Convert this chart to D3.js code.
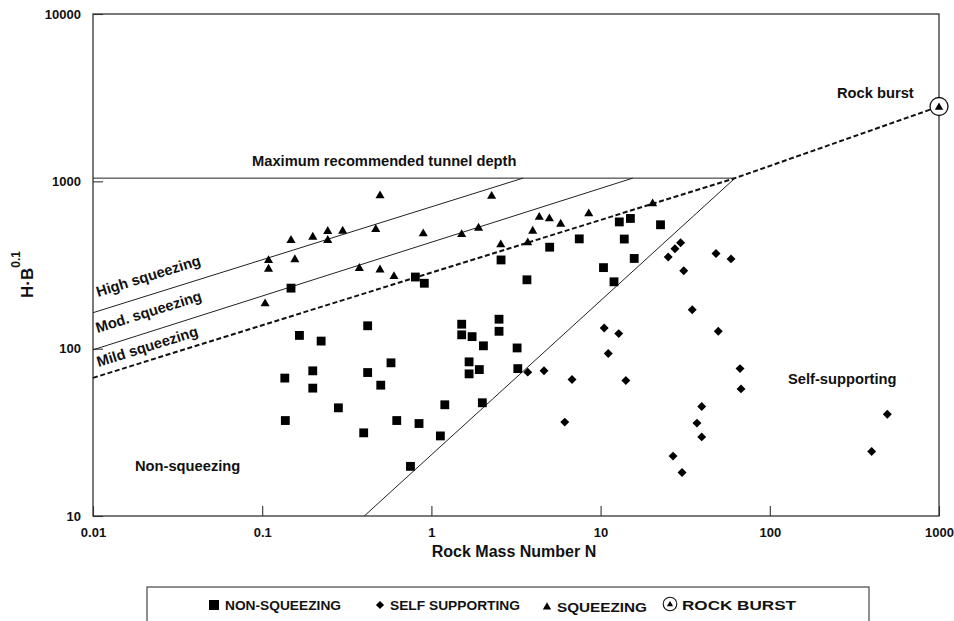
<!DOCTYPE html>
<html>
<head>
<meta charset="utf-8">
<script src="https://cdn.jsdelivr.net/npm/d3@7"></script>
<style>
  html, body { margin: 0; padding: 0; background: #fff; }
  svg { display: block; font-family: Arial, "Liberation Sans", sans-serif; }
</style>
</head>
<body>
<svg id="chart" width="954" height="621"></svg>
<script>
// ---------------- data ----------------
const xTickValues = [0.01, 0.1, 1, 10, 100, 1000];
const xTickLabels = ["0.01", "0.1", "1", "10", "100", "1000"];
const yTickValues = [10, 100, 1000, 10000];
const yTickLabels = ["10", "100", "1000", "10000"];

// Squeezing cases (triangles): Rock Mass Number N, H·B^0.1
const squeezingN = [0.497, 0.148, 0.199, 0.244, 0.244, 0.299, 0.469, 0.895, 0.109, 0.109, 0.156, 0.375, 0.497, 0.601, 0.104,
                    2.27, 1.51, 1.90, 4.34, 4.98, 5.81, 3.97, 2.57, 3.71, 8.51, 20.3];
const squeezingH = [826, 447, 468, 506, 447, 508, 520, 490, 339, 301, 343, 304, 298, 272, 187,
                    821, 485, 529, 615, 602, 559, 508, 421, 433, 645, 740];

// Non-squeezing cases (squares)
const nonSqueezingN = [0.148, 0.804, 0.908, 0.420, 2.58, 3.67, 5.00, 7.48, 12.9, 15.0, 13.8, 15.8, 10.4, 12.0, 22.6,
                       1.51, 2.51, 1.51, 1.74, 2.51, 2.03, 3.21, 1.67, 1.92, 1.67, 3.24, 1.20, 2.00, 1.13,
                       0.166, 0.223, 0.577, 0.199, 0.136, 0.420, 0.199, 0.502, 0.282, 0.137, 0.624, 0.845, 0.398, 0.752];
const nonSqueezingH = [230, 268, 246, 137, 339, 258, 404, 453, 572, 600, 452, 346, 305, 251, 550,
                       140, 150, 121, 118, 127, 104, 101, 83.4, 75.0, 70.7, 76.0, 46.2, 47.5, 30.1,
                       120, 111, 82.3, 73.7, 66.7, 72.0, 58.1, 60.5, 44.3, 37.2, 37.2, 35.7, 31.4, 19.8];

// Self-supporting cases (diamonds)
const selfSupportN = [3.71, 4.63, 6.78, 6.14, 10.5, 12.8, 11.1, 14.1, 29.7, 27.5, 25.1, 48.1, 59.0, 31.0, 34.8,
                      49.6, 66.7, 67.6, 39.6, 37.1, 39.6, 26.8, 30.3, 495, 400];
const selfSupportH = [72.4, 73.7, 65.4, 36.4, 133, 123, 93.5, 64.5, 430, 395, 353, 370, 344, 292, 171,
                      127, 76.0, 57.5, 45.1, 35.9, 29.7, 22.8, 18.2, 40.6, 24.3];

// Rock burst case
const rockBurstN = [1000];
const rockBurstH = [2800];

// Boundary lines (N, H·B^0.1)
const maxDepthLine = [[0.01, 1045], [62.3, 1045]];
const highSqueezingLine = [[0.01, 164], [3.48, 1045]];
const modSqueezingLine = [[0.01, 98.4], [15.5, 1045]];
const mildSqueezingLine = [[0.01, 66.9], [62.3, 1045], [1000, 2800]];
const selfSupportLine = [[0.401, 10], [62.3, 1045]];

const legendLabels = ["NON-SQUEEZING", "SELF SUPPORTING", "SQUEEZING", "ROCK BURST"];

// ---------------- drawing ----------------
(function draw() {
const svg = d3.select("#chart");
const pL = 93, pR = 939, pT = 14, pB = 516;
const ink = "#111";

const x = d3.scaleLog().domain([0.01, 1000]).range([pL, pR]);
const y = d3.scaleLog().domain([10, 10000]).range([pB, pT]);

svg.append("rect").attr("width", 954).attr("height", 621).attr("fill", "#fff");

// axes
const xAxis = svg.append("g")
  .attr("transform", `translate(0,${pB})`)
  .call(d3.axisBottom(x).tickValues(xTickValues)
        .tickFormat((d, i) => xTickLabels[i])
        .tickSizeInner(-10).tickSizeOuter(0).tickPadding(12));
const yAxis = svg.append("g")
  .attr("transform", `translate(${pL},0)`)
  .call(d3.axisLeft(y).tickValues(yTickValues)
        .tickFormat((d, i) => yTickLabels[i])
        .tickSizeInner(-10).tickSizeOuter(0).tickPadding(12));
[xAxis, yAxis].forEach(g => {
  g.select(".domain").remove();
  g.selectAll(".tick line").attr("stroke", "#333").attr("stroke-width", 1.1);
  g.selectAll(".tick text").attr("font-size", 13).attr("font-weight", "bold")
    .attr("fill", ink).attr("font-family", "Arial, 'Liberation Sans', sans-serif");
});

// plot border
svg.append("rect")
  .attr("x", pL).attr("y", pT)
  .attr("width", pR - pL).attr("height", pB - pT)
  .attr("fill", "none").attr("stroke", "#333").attr("stroke-width", 1.3);

// boundary lines
const line = d3.line().x(d => x(d[0])).y(d => y(d[1]));
const solidLines = [maxDepthLine, highSqueezingLine, modSqueezingLine, selfSupportLine];
svg.append("g").selectAll("path").data(solidLines).join("path")
  .attr("d", line).attr("fill", "none").attr("stroke", "#222").attr("stroke-width", 1);
svg.append("path").datum(mildSqueezingLine)
  .attr("d", line).attr("fill", "none").attr("stroke", "#111")
  .attr("stroke-width", 2).attr("stroke-dasharray", "5,2.6");

// markers
const sq = d3.symbol().type(d3.symbolSquare).size(78)();
const dia = d3.symbol().type(d3.symbolSquare).size(40)();
const tri = d3.symbol().type(d3.symbolTriangle).size(36)();

svg.append("g").selectAll("path")
  .data(d3.range(nonSqueezingN.length)).join("path")
  .attr("d", sq).attr("fill", "#000")
  .attr("transform", i => `translate(${x(nonSqueezingN[i])},${y(nonSqueezingH[i])})`);
svg.append("g").selectAll("path")
  .data(d3.range(selfSupportN.length)).join("path")
  .attr("d", dia).attr("fill", "#000")
  .attr("transform", i => `translate(${x(selfSupportN[i])},${y(selfSupportH[i])}) rotate(45)`);
svg.append("g").selectAll("path")
  .data(d3.range(squeezingN.length)).join("path")
  .attr("d", tri).attr("fill", "#000")
  .attr("transform", i => `translate(${x(squeezingN[i])},${y(squeezingH[i]) + 0.5})`);
const rb = svg.append("g").selectAll("g")
  .data(d3.range(rockBurstN.length)).join("g")
  .attr("transform", i => `translate(${x(rockBurstN[i])},${y(rockBurstH[i])})`);
rb.append("circle").attr("r", 9).attr("fill", "#fff").attr("stroke", "#111").attr("stroke-width", 1.3);
rb.append("path").attr("d", d3.symbol().type(d3.symbolTriangle).size(30)()).attr("fill", "#000")
  .attr("transform", "translate(0,0.8)");

// region labels
const lab = (t, tx, ty, rot) => svg.append("text").text(t)
  .attr("transform", `translate(${tx},${ty})` + (rot ? ` rotate(${rot})` : ""))
  .attr("font-size", 14.7).attr("font-weight", "bold").attr("fill", ink);
lab("Maximum recommended tunnel depth", 252, 166);
lab("Rock burst", 837, 98);
lab("Non-squeezing", 135, 471);
lab("Self-supporting", 788, 384);
lab("High squeezing", 98, 297, -17.3);
lab("Mod. squeezing", 97.5, 333, -17.3);
lab("Mild squeezing", 98.5, 367, -17.3);

// axis titles
svg.append("text").text("Rock Mass Number N")
  .attr("x", 514).attr("y", 557).attr("text-anchor", "middle")
  .attr("font-size", 16).attr("font-weight", "bold").attr("fill", ink);
const yt = svg.append("text")
  .attr("transform", "translate(33,298) rotate(-90)")
  .attr("font-size", 17).attr("font-weight", "bold").attr("fill", ink);
yt.append("tspan").text("H\u00B7B");
yt.append("tspan").text("0.1").attr("font-size", 12).attr("dy", -13);

// legend
svg.append("rect").attr("x", 147).attr("y", 587).attr("width", 722).attr("height", 60)
  .attr("fill", "#fff").attr("stroke", "#333").attr("stroke-width", 1.1);
const legY = 605;
const lg = svg.append("g");
lg.append("path").attr("d", d3.symbol().type(d3.symbolSquare).size(100)()).attr("fill", "#000")
  .attr("transform", `translate(214,${legY})`);
lg.append("path").attr("d", d3.symbol().type(d3.symbolSquare).size(34)()).attr("fill", "#000")
  .attr("transform", `translate(380,${legY}) rotate(45)`);
lg.append("path").attr("d", d3.symbol().type(d3.symbolTriangle).size(30)()).attr("fill", "#000")
  .attr("transform", `translate(547,${legY + 2})`);
lg.append("circle").attr("cx", 670).attr("cy", legY - 1).attr("r", 6.8)
  .attr("fill", "#fff").attr("stroke", "#111").attr("stroke-width", 1.1);
lg.append("path").attr("d", d3.symbol().type(d3.symbolTriangle).size(17)()).attr("fill", "#000")
  .attr("transform", `translate(670,${legY - 0.5})`);
const legX = [225, 390, 557, 682];
const legW = [116, 130, 90, 114];
const legDy = [0, 0, 2, 0];
lg.selectAll("text").data(legendLabels).join("text")
  .text(d => d)
  .attr("x", (d, i) => legX[i]).attr("y", (d, i) => legY + 5 + legDy[i])
  .attr("textLength", (d, i) => legW[i]).attr("lengthAdjust", "spacingAndGlyphs")
  .attr("font-size", 13.5).attr("font-weight", "bold").attr("fill", ink);
})();
</script>
</body>
</html>
